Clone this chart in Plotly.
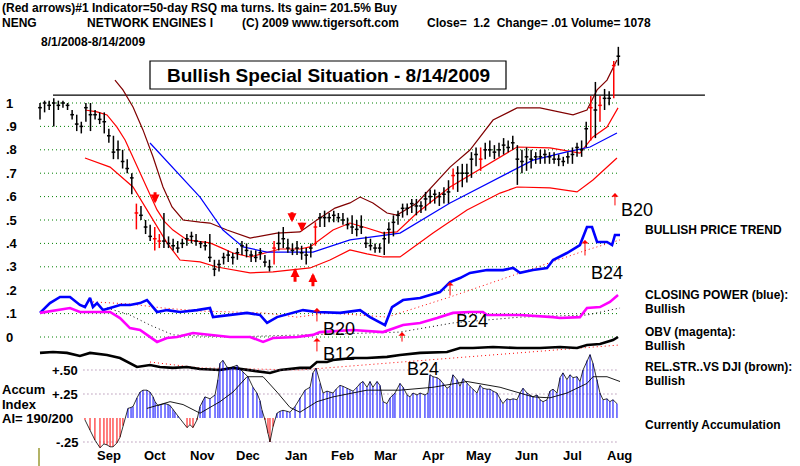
import plotly.graph_objects as go
import pandas as pd

# ---------------- data ----------------
# price bars, one every 3 calendar days from 8/1/2008 to 8/14/2009
bar_day = list(range(0, 379, 3))
bar_high = [1.00,1.01,1.01,1.02,1.01,1.01,1.00,0.97,0.95,0.92,
            1.00,1.00,0.97,0.96,0.96,0.89,0.86,0.84,0.80,0.76,
            0.70,0.57,0.56,0.50,0.48,0.47,0.44,0.53,0.43,0.42,
            0.41,0.42,0.44,0.45,0.44,0.41,0.41,0.44,0.33,0.33,
            0.36,0.37,0.36,0.38,0.41,0.40,0.37,0.37,0.38,0.35,
            0.33,0.41,0.45,0.47,0.42,0.40,0.41,0.39,0.38,0.40,
            0.49,0.53,0.54,0.53,0.54,0.53,0.53,0.51,0.52,0.50,
            0.52,0.43,0.42,0.40,0.40,0.45,0.49,0.52,0.54,0.57,
            0.57,0.59,0.59,0.58,0.62,0.63,0.63,0.62,0.64,0.67,
            0.72,0.73,0.74,0.74,0.79,0.81,0.81,0.83,0.84,0.82,
            0.83,0.85,0.84,0.86,0.82,0.80,0.81,0.80,0.79,0.80,
            0.80,0.79,0.79,0.78,0.77,0.79,0.81,0.83,0.84,0.92,
            1.03,1.09,1.03,1.06,1.05,1.18,1.24]
bar_low = [0.93,0.96,0.97,0.90,0.97,0.98,0.97,0.93,0.88,0.87,
           0.92,0.88,0.93,0.91,0.87,0.83,0.76,0.76,0.72,0.70,
           0.61,0.46,0.50,0.44,0.41,0.37,0.38,0.38,0.38,0.37,
           0.36,0.38,0.39,0.40,0.39,0.38,0.37,0.32,0.26,0.28,
           0.31,0.32,0.31,0.33,0.35,0.34,0.32,0.32,0.33,0.30,
           0.28,0.31,0.37,0.38,0.36,0.35,0.35,0.33,0.31,0.34,
           0.39,0.47,0.47,0.49,0.49,0.49,0.48,0.46,0.44,0.43,
           0.44,0.38,0.37,0.36,0.36,0.35,0.40,0.43,0.48,0.51,
           0.52,0.53,0.52,0.53,0.54,0.57,0.57,0.56,0.57,0.57,
           0.63,0.62,0.64,0.66,0.68,0.73,0.71,0.76,0.77,0.76,
           0.77,0.78,0.79,0.80,0.65,0.70,0.71,0.72,0.74,0.74,
           0.74,0.74,0.74,0.73,0.73,0.74,0.74,0.77,0.77,0.81,
           0.84,0.85,0.92,0.97,0.99,1.02,1.16]
bar_close = [0.98,1.00,0.99,1.00,0.99,1.00,0.99,0.95,0.91,0.90,
             0.98,0.95,0.95,0.93,0.92,0.86,0.79,0.80,0.75,0.72,
             0.68,0.53,0.52,0.47,0.43,0.42,0.41,0.41,0.40,0.39,
             0.38,0.40,0.42,0.43,0.41,0.40,0.39,0.34,0.29,0.31,
             0.34,0.35,0.34,0.36,0.39,0.37,0.35,0.34,0.36,0.32,
             0.30,0.38,0.40,0.42,0.38,0.37,0.38,0.36,0.35,0.38,
             0.47,0.51,0.51,0.51,0.52,0.51,0.50,0.48,0.47,0.46,
             0.47,0.40,0.39,0.38,0.38,0.42,0.46,0.49,0.52,0.55,
             0.55,0.57,0.56,0.56,0.59,0.60,0.61,0.60,0.61,0.62,
             0.69,0.70,0.70,0.70,0.76,0.78,0.76,0.80,0.80,0.79,
             0.80,0.82,0.81,0.83,0.76,0.75,0.77,0.76,0.77,0.77,
             0.78,0.77,0.76,0.76,0.75,0.77,0.78,0.81,0.80,0.89,
             0.98,0.97,0.99,1.02,1.02,1.16,1.20]
red_bars = [21, 25, 26, 51, 60, 90, 96, 120, 122, 125]

# bands around price
outer_day = [49,54.2,60.8,67.3,73.9,80.4,86.3,93.5,104.6,111.1,122.2,137.3,154.9,169.9,181,
             192.8,202.6,209.2,217.6,226.8,233.3,246.4,268,281,296.1,311.8,326.8,348.4,357.5,364.1,370.6,377.1]
outer_val = [1.098,1.056,0.983,0.885,0.769,0.641,0.556,0.500,0.491,0.487,0.457,0.423,0.444,0.449,0.500,
             0.551,0.573,0.598,0.573,0.530,0.521,0.573,0.726,0.799,0.927,0.979,0.979,0.949,0.970,1.056,1.098,1.184]
upper_day = [29.4,37.3,43.8,50.3,55.6,60.8,65.4,69.9,76.5,81.7,86.9,96.1,104.6,111.1,119,126.1,137.3,147.1,
             156.9,169.9,176.5,191.5,202.6,213.7,224.2,233.3,246.4,268,289.5,311.8,333.3,352.9,361.4,370.6,377.8]
upper_val = [0.970,0.962,0.949,0.897,0.842,0.769,0.701,0.641,0.543,0.491,0.457,0.415,0.406,0.402,0.380,0.359,0.342,0.359,
             0.376,0.376,0.385,0.457,0.487,0.466,0.444,0.449,0.530,0.641,0.726,0.812,0.808,0.786,0.855,0.897,0.979]
ma_day = [71.9,88.2,104.6,119.6,132.7,148.4,178.4,202.6,235.3,268,300.7,322.2,344.4,359.5,377.1]
ma_val = [0.829,0.714,0.598,0.457,0.385,0.363,0.363,0.415,0.444,0.573,0.684,0.756,0.791,0.812,0.872]
lower_day = [29.4,45.8,60.8,73.9,83,91.5,104.6,115.7,137.3,152.3,176.5,189.5,202.6,213.7,224.2,235.3,
             256.9,279.1,300.7,311.8,333.3,351,361.4,377.1]
lower_val = [0.765,0.726,0.641,0.500,0.402,0.329,0.321,0.299,0.274,0.278,0.295,0.329,0.372,0.355,0.342,0.342,
             0.444,0.543,0.615,0.641,0.637,0.620,0.671,0.765]
resist_day = [8.5, 434.6]
resist_level = 1.034

# Closing Power (blue) and its moving average
cp_day = [0,6.5,13.1,19.6,26.1,29.4,32.7,34.6,37.3,41.2,45.8,52.3,58.8,65.4,69.9,73.9,76.5,83,91.5,102.6,
          111.1,113.1,124.2,135.3,143.8,148.4,154.9,165.4,171.9,181,189.5,196.1,209.2,215.7,225.5,230.1,237.3,
          248.4,261.4,268,274.5,281,292.2,302.6,309.2,313.7,322.2,331.4,335.3,344.4,352.9,357.5,360.8,364.1,
          370.6,373.9,375.8,379.1]
cp_val = [0.103,0.145,0.171,0.171,0.137,0.128,0.167,0.128,0.145,0.115,0.124,0.137,0.137,0.145,0.158,0.124,0.107,
          0.115,0.107,0.115,0.124,0.085,0.094,0.103,0.094,0.060,0.085,0.103,0.115,0.107,0.103,0.103,0.115,0.085,
          0.051,0.128,0.158,0.167,0.192,0.235,0.252,0.274,0.286,0.286,0.295,0.274,0.286,0.295,0.329,0.359,0.393,
          0.470,0.470,0.406,0.406,0.393,0.436,0.436]
cpma_day = [34.6,58.8,80.4,104.6,145.8,168,189.5,226.8,268,313.7,357.5,379.1]
cpma_val = [0.150,0.141,0.124,0.111,0.103,0.085,0.103,0.085,0.171,0.274,0.372,0.415]

# OBV (magenta) and its moving average
obv_day = [0,6.5,19.6,26.1,37.3,45.8,52.3,58.8,65.4,71.9,76.5,83,89.5,100,111.1,124.2,137.3,145.8,152.3,168,
           178.4,183,204.6,224.2,237.3,248.4,259.5,269.9,281,289.5,292.2,313.7,335.3,339.9,352.9,357.5,366,
           372.5,377.8]
obv_val = [0.103,0.111,0.124,0.107,0.107,0.107,0.081,0.038,0.030,0.000,-0.021,-0.004,0.000,0.017,0.009,0.000,
           0.000,-0.021,-0.004,0.000,0.009,0.021,0.030,0.021,0.051,0.060,0.081,0.103,0.107,0.107,0.094,0.094,
           0.085,0.081,0.085,0.124,0.128,0.150,0.179]
obvma_day = [43.8,58.8,71.9,86.9,124.2,189.5,235.3,269.9,313.7,357.5,379.1]
obvma_val = [0.124,0.094,0.051,0.009,0.000,0.013,0.021,0.060,0.085,0.094,0.124]

# Relative strength vs DJI and its moving average
rs_day = [0,8.5,17.6,26.1,32.7,43.8,52.3,58.8,63.4,71.9,78.4,86.9,96.1,104.6,117.6,126.1,135.3,143.8,150.3,
          156.9,169.9,176.5,181,187.6,191.5,204.6,213.7,226.8,235.3,248.4,266,274.5,283,296.1,311.8,326.8,
          339.9,351,357.5,366,374.5,377.8]
rs_val = [-0.068,-0.064,-0.068,-0.081,-0.068,-0.077,-0.090,-0.111,-0.128,-0.120,-0.128,-0.132,-0.128,-0.137,
          -0.141,-0.132,-0.141,-0.150,-0.154,-0.141,-0.132,-0.132,-0.107,-0.107,-0.098,-0.090,-0.090,-0.085,
          -0.077,-0.068,-0.064,-0.047,-0.047,-0.043,-0.047,-0.047,-0.043,-0.047,-0.034,-0.030,-0.013,0.000]
rsma_day = [71.9,104.6,169.9,379.1]
rsma_val = [-0.107,-0.132,-0.141,-0.034]

# Accumulation Index histogram and its moving average
ai_day = [29.4,32.7,35.9,39.2,41.8,43.8,45.8,47.7,50.3,52.3,
          54.2,57.5,59.5,60.8,63.4,65.4,67.3,69.9,71.9,73.9,
          75.2,77.1,79.1,81.7,83.7,85.0,86.9,88.2,90.2,96.1,
          98.0,100.0,102.6,104.6,106.5,107.8,111.1,114.4,116.3,117.6,
          119.6,122.2,124.2,126.1,128.8,130.7,132.7,135.9,139.2,141.8,
          143.8,145.1,147.1,149.0,150.3,152.3,154.9,156.9,158.8,161.4,
          163.4,166.7,169.9,173.2,176.5,178.4,180.4,183.0,185.0,187.6,
          189.5,191.5,193.5,196.1,198.0,200.7,202.6,204.6,207.2,209.2,
          211.1,213.7,215.7,217.6,220.3,222.2,224.2,226.8,228.8,230.7,
          232.0,235.3,237.3,239.9,241.8,243.8,246.4,248.4,251.6,253.6,
          254.9,256.9,259.5,261.4,263.4,266.0,268.0,269.9,272.5,274.5,
          276.5,279.1,281.0,283.0,285.6,287.6,289.5,292.2,294.1,296.1,
          298.7,300.7,302.6,305.2,307.2,309.2,311.8,313.7,315.7,318.3,
          320.3,322.2,324.8,326.8,328.8,331.4,333.3,335.3,337.9,339.9,
          341.8,344.4,346.4,348.4,351.0,352.9,354.9,357.5,359.5,361.4,
          364.1,366.0,368.0,370.6,372.5,374.5,377.1]
ai_val = [-0.02,-0.125,-0.23,-0.31,-0.27,-0.28,-0.30,-0.30,-0.26,-0.20,
          -0.08,0.10,0.11,0.12,0.21,0.27,0.29,0.29,0.27,0.22,
          0.17,0.13,0.14,0.15,0.14,0.13,0.09,0.06,0.02,-0.10,
          -0.07,-0.10,-0.02,0.12,0.18,0.22,0.20,0.24,0.40,0.57,
          0.60,0.53,0.52,0.53,0.55,0.51,0.48,0.43,0.32,0.26,
          0.18,0.08,-0.02,-0.16,-0.25,-0.09,0.05,0.07,0.08,0.07,
          0.06,0.12,0.21,0.29,0.32,0.47,0.52,0.36,0.26,0.28,
          0.27,0.26,0.30,0.34,0.33,0.31,0.29,0.28,0.32,0.36,
          0.38,0.32,0.38,0.32,0.38,0.34,0.17,0.15,0.21,0.24,
          0.26,0.36,0.32,0.24,0.22,0.26,0.24,0.26,0.24,0.26,
          0.45,0.43,0.42,0.40,0.36,0.31,0.33,0.45,0.40,0.33,
          0.41,0.36,0.33,0.30,0.26,0.34,0.31,0.30,0.30,0.28,
          0.26,0.20,0.15,0.20,0.19,0.20,0.19,0.26,0.31,0.26,
          0.24,0.22,0.24,0.19,0.17,0.19,0.28,0.30,0.26,0.42,
          0.47,0.40,0.45,0.42,0.43,0.38,0.50,0.60,0.66,0.57,
          0.40,0.26,0.19,0.20,0.17,0.19,0.15]
aima_day = [69.9,85,93.5,104.6,117.6,126.1,135.3,145.8,154.9,163.4,169.9,181,191.5,213.7,235.3,256.9,
            279.1,300.7,322.2,333.3,344.4,357.5,361.4,370.6,379.1]
aima_val = [0.10,0.17,0.14,0.05,0.17,0.27,0.43,0.43,0.27,0.11,0.06,0.17,0.22,0.29,0.29,0.32,
            0.38,0.32,0.22,0.21,0.26,0.36,0.43,0.43,0.38]

price_ticks = [1.0, 0.9, 0.8, 0.7, 0.6, 0.5, 0.4, 0.3, 0.2, 0.1, 0.0]
price_tick_text = ["1", ".9", ".8", ".7", ".6", ".5", ".4", ".3", ".2", ".1", "0"]
ai_ticks = [0.50, 0.25, -0.25]
ai_tick_text = ["+.50", "+.25", "-.25"]
months = ["2008-09-15", "2008-10-15", "2008-11-15", "2008-12-15", "2009-01-15", "2009-02-15",
          "2009-03-15", "2009-04-15", "2009-05-15", "2009-06-15", "2009-07-15", "2009-08-15"]
month_text = ["Sep", "Oct", "Nov", "Dec", "Jan", "Feb", "Mar", "Apr", "May", "Jun", "Jul", "Aug"]
START = pd.Timestamp("2008-08-01")

# ---------------- geometry ----------------
W, H = 800, 466
X0_PX, PX_PER_DAY = 40, 1.53
Y_ONE_PX, PX_PER_UNIT = 103, 234
AI_ZERO_PX, PX_PER_AI = 418, 96
x_range = [-X0_PX / PX_PER_DAY, (W - X0_PX) / PX_PER_DAY]
y_range = [1 - (H - Y_ONE_PX) / PX_PER_UNIT, 1 + Y_ONE_PX / PX_PER_UNIT]
y2_range = [-(H - AI_ZERO_PX) / PX_PER_AI, AI_ZERO_PX / PX_PER_AI]
TICK = 1.2  # half width of close tick in days
DOTS = "1px,3px"

def px(x):
    return x / W

def py(y):
    return 1 - y / H

fig = go.Figure()

def line(x, y, color, width=1.0, dash="solid", yaxis="y"):
    fig.add_trace(go.Scatter(x=x, y=y, mode="lines", yaxis=yaxis, hoverinfo="skip",
                             line=dict(color=color, width=width, dash=dash), showlegend=False))

# grid lines
g0, g1 = bar_day[0], bar_day[-1]
gx, gy = [], []
for t in price_ticks:
    gx += [g0, g1, None]
    gy += [t, t, None]
line(gx, gy, "#008000", 1, DOTS)
ax_, ay_ = [], []
for t in ai_ticks:
    ax_ += [ai_day[0] - 1, g1, None]
    ay_ += [t, t, None]
line(ax_, ay_, "#906090", 1, DOTS, "y2")

# resistance line
line(resist_day, [resist_level, resist_level], "black", 1.3)

# bands
line(outer_day, outer_val, "#800000", 1.2)
line(upper_day, upper_val, "#ff0000", 1.2)
line(ma_day, ma_val, "#0000ff", 1.2)
line(lower_day, lower_val, "#ff0000", 1.2)

# price bars
bx = {"k": [], "r": []}
by = {"k": [], "r": []}
for i, d in enumerate(bar_day):
    key = "r" if i in red_bars else "k"
    bx[key] += [d, d, None, d - TICK, d + TICK, None]
    by[key] += [bar_low[i], bar_high[i], None, bar_close[i], bar_close[i], None]
line(bx["k"], by["k"], "black", 1.5)
line(bx["r"], by["r"], "#ff0000", 1.5)

# indicators
line(cpma_day, cpma_val, "#ff0000", 1, DOTS)
line(obvma_day, obvma_val, "black", 1, DOTS)
line(rsma_day, rsma_val, "#ff0000", 1, DOTS)
line(cp_day, cp_val, "#0000ff", 2.6)
line(obv_day, obv_val, "#ff00ff", 2.6)
line(rs_day, rs_val, "black", 2.6)

# accumulation histogram
hx = {"b": [], "r": []}
hy = {"b": [], "r": []}
for d, v in zip(ai_day, ai_val):
    key = "b" if v >= 0 else "r"
    hx[key] += [d, d, None]
    hy[key] += [0, v, None]
line(hx["b"], hy["b"], "#0000ff", 1, yaxis="y2")
line(hx["r"], hy["r"], "#ff0000", 1, yaxis="y2")
line(ai_day, ai_val, "black", 0.8, yaxis="y2")
line(aima_day, aima_val, "black", 0.9, yaxis="y2")

ann = []
# signal arrows on price (thick) : (day, tail, head)
for d, t, h in [(75.2, 0.625, 0.57), (164.7, 0.54, 0.49), (171.2, 0.495, 0.45),
                (166.7, 0.23, 0.295), (178.4, 0.21, 0.274)]:
    ann.append(dict(x=d, y=h, ax=d, ay=t, xref="x", yref="y", axref="x", ayref="y", text="",
                    showarrow=True, arrowhead=2, arrowsize=0.6, arrowwidth=3, arrowcolor="#ff0000"))
# thin arrows
for d, t, h in [(375.8, 0.556, 0.615), (268, 0.171, 0.235), (356.2, 0.342, 0.415), (181, 0.060, 0.124),
                (181, -0.068, -0.004), (236.6, -0.026, 0.021)]:
    ann.append(dict(x=d, y=h, ax=d, ay=t, xref="x", yref="y", axref="x", ayref="y", text="",
                    showarrow=True, arrowhead=1, arrowsize=1.2, arrowwidth=1, arrowcolor="#ff0000"))

def text(x, y, s, size=12, bold=True, anchor="left", color="black"):
    ann.append(dict(x=px(x), y=py(y), xref="paper", yref="paper", text=("<b>%s</b>" % s) if bold else s,
                    showarrow=False, xanchor=anchor, yanchor="middle",
                    font=dict(family="Arial", size=size, color=color)))

# header
text(0, 8, "(Red arrows)#1 Indicator=50-day RSQ ma turns. Its gain= 201.5% Buy")
text(0, 23, "NENG")
text(85, 23, "NETWORK ENGINES I")
text(240, 23, "(C) 2009 www.tigersoft.com")
text(425, 23, "Close=&nbsp; 1.2&nbsp; Change= .01 Volume= 1078")
text(39, 42, "8/1/2008-8/14/2009")
text(328, 75, "Bullish Special Situation - 8/14/2009", size=19, anchor="center")

# axis labels
for t, s in zip(price_ticks, price_tick_text):
    text(4, Y_ONE_PX + (1 - t) * PX_PER_UNIT, s, size=13)
for t, s in zip(ai_ticks, ai_tick_text):
    text(80, AI_ZERO_PX - t * PX_PER_AI, s, size=13, anchor="right")
for m, s in zip(months, month_text):
    d = (pd.Timestamp(m) - START).days
    ann.append(dict(x=d, y=py(455), xref="x", yref="paper", text="<b>%s</b>" % s, showarrow=False,
                    xanchor="center", yanchor="middle", font=dict(family="Arial", size=13, color="black")))
text(0, 389, "Accum", size=13)
text(0, 404, "Index", size=13)
text(0, 418, "AI= 190/200", size=13)

# signal labels
text(637, 210, "B20", size=18, bold=False, anchor="center")
text(607, 273, "B24", size=18, bold=False, anchor="center")
text(339, 329, "B20", size=18, bold=False, anchor="center")
text(472, 321, "B24", size=18, bold=False, anchor="center")
text(339, 354, "B12", size=18, bold=False, anchor="center")
text(423, 369, "B24", size=18, bold=False, anchor="center")

# right side commentary
text(643, 230, "BULLISH PRICE TREND")
text(643, 295, "CLOSING POWER (blue):")
text(643, 309, "Bullish")
text(643, 332, "OBV (magenta):")
text(643, 346, "Bullish")
text(643, 367, "REL.STR..VS DJI (brown):")
text(643, 381, "Bullish")
text(643, 425, "Currently Accumulation")

shapes = [
    dict(type="rect", xref="paper", yref="paper", x0=px(150), x1=px(506), y0=py(61), y1=py(89),
         line=dict(color="black", width=1.2), fillcolor="rgba(0,0,0,0)"),
    dict(type="line", xref="paper", yref="paper", x0=px(39), x1=px(39), y0=py(448), y1=py(466),
         line=dict(color="#808000", width=1.2)),
]

fig.update_layout(
    width=W, height=H, margin=dict(l=0, r=0, t=0, b=0),
    paper_bgcolor="white", plot_bgcolor="white", showlegend=False,
    xaxis=dict(range=x_range, visible=False, fixedrange=True),
    yaxis=dict(range=y_range, visible=False, fixedrange=True),
    yaxis2=dict(range=y2_range, visible=False, overlaying="y", fixedrange=True),
    annotations=ann, shapes=shapes,
)
fig.write_html("out.html")
